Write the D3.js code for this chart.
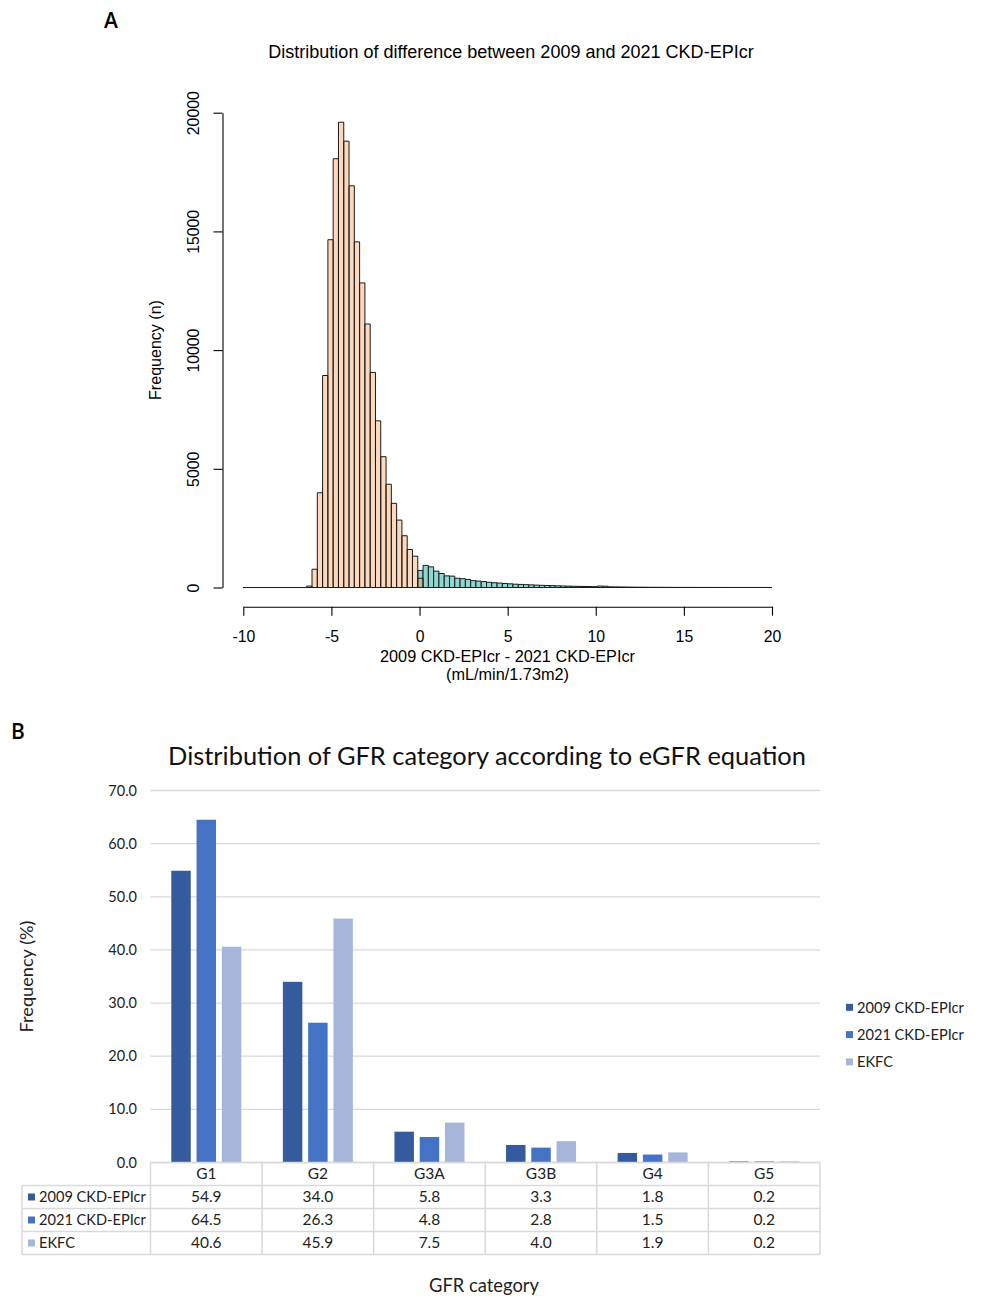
<!DOCTYPE html>
<html>
<head>
<meta charset="utf-8">
<script src="https://cdn.jsdelivr.net/npm/d3@7"></script>
<style>
  html, body { margin: 0; padding: 0; background: #fff; }
  svg { display: block; }
</style>
</head>
<body>
<svg id="chart" width="981" height="1296"></svg>
<script>
// ---------------- DATA: panel A (histogram, 100 bins from -10 to 20) ----------------
const histDomain = [-10, 20];
const histBinCount = 100;
// counts of negative differences (orange), bin index 12 .. 33
const negStartBin = 12;
const negCounts = [60, 770, 3990, 8930, 14650, 18060, 19600, 18800, 16920, 14560, 12830,
  11100, 9060, 7020, 5510, 4350, 3545, 2840, 2180, 1600, 1320, 390];
// counts of positive differences (teal), bin index 33 .. 99
const posStartBin = 33;
const posCounts = [720, 930, 870, 690, 590, 490, 480, 390, 370, 340, 290, 270, 250, 220, 200,
  185, 170, 155, 140, 130, 120, 110, 100, 92, 85, 78, 70, 65, 58, 52, 48, 44, 40, 36, 60, 55,
  28, 25, 22, 19, 16, 14, 12, 10, 9, 8, 7, 6, 5, 5, 4, 4, 3, 3, 3, 2, 2, 2, 2, 1, 1, 1, 1, 1, 1, 1, 1];
const histXTicks = [-10, -5, 0, 5, 10, 15, 20];
const histYTicks = [0, 5000, 10000, 15000, 20000];

// ---------------- DATA: panel B (grouped bars + data table) ----------------
const categories = ["G1", "G2", "G3A", "G3B", "G4", "G5"];
const seriesNames = ["2009 CKD-EPIcr", "2021 CKD-EPIcr", "EKFC"];
const values2009 = [54.9, 34.0, 5.8, 3.3, 1.8, 0.2];
const values2021 = [64.5, 26.3, 4.8, 2.8, 1.5, 0.2];
const valuesEKFC = [40.6, 45.9, 7.5, 4.0, 1.9, 0.2];
const barYTicks = [0, 10, 20, 30, 40, 50, 60, 70];

// ---------------- styles ----------------
const colA = { neg: "#F7964A", negOpacity: 0.36, pos: "#8ED8D1" };
const seriesColors = ["#355A9E", "#4472C4", "#A6B5DA"];
const fontA = "'Liberation Sans', Arial, sans-serif";
const fontB = "Lato, 'Open Sans', sans-serif";
const fontPanel = "'Open Sans', 'Liberation Sans', sans-serif";

const svg = d3.select("#chart");

function fitText(sel, width) {
  const node = sel.node();
  const fs = parseFloat(sel.attr("font-size"));
  const w = node.getComputedTextLength();
  if (w > 0) sel.attr("font-size", fs * width / w);
}

// =============== PANEL A ===============
const gA = svg.append("g");
gA.append("text").attr("x", 104).attr("y", 27.7).attr("font-family", fontPanel)
  .attr("font-size", 21).attr("font-weight", 600).text("A");
const titleA = gA.append("text").attr("x", 511).attr("y", 58.2).attr("text-anchor", "middle")
  .attr("font-family", fontA).attr("font-size", 18)
  .text("Distribution of difference between 2009 and 2021 CKD-EPIcr");
fitText(titleA, 486);

const xA = d3.scaleLinear().domain(histDomain).range([243.3, 772]);
const yA = d3.scaleLinear().domain([0, 20000]).range([587.5, 112.7]);
const binW = (histDomain[1] - histDomain[0]) / histBinCount;
const breaks = d3.range(histBinCount + 1).map(i => histDomain[0] + i * binW);

function fullCounts(start, arr) {
  return d3.range(histBinCount).map(i => {
    const j = i - start;
    return (j >= 0 && j < arr.length) ? arr[j] : 0;
  });
}
const posFull = fullCounts(posStartBin, posCounts);
const negFull = fullCounts(negStartBin, negCounts);

function drawHist(counts, fill, opacity) {
  gA.append("g").selectAll("path").data(counts).join("path")
    .attr("d", (d, i) => {
      const x0 = xA(breaks[i]), x1 = xA(breaks[i + 1]);
      const y0 = yA(0), y1 = yA(d);
      return `M${x0},${y0}V${y1}H${x1}V${y0}Z`;
    })
    .attr("fill", fill).attr("fill-opacity", opacity)
    .attr("stroke", "#1a1a1a").attr("stroke-width", 1);
}
drawHist(posFull, colA.pos, 1);
drawHist(negFull, colA.neg, colA.negOpacity);

// y axis
const yAxisA = gA.append("g").attr("transform", "translate(222.5,0)")
  .call(d3.axisLeft(yA).tickValues(histYTicks).tickSize(9).tickSizeOuter(0).tickFormat(d => String(d)));
yAxisA.selectAll(".tick text")
  .attr("x", null).attr("dy", null).attr("y", null)
  .attr("text-anchor", "middle")
  .attr("transform", "translate(-23.5,0) rotate(-90)");
// x axis
const xAxisA = gA.append("g").attr("transform", "translate(0,606.7)")
  .call(d3.axisBottom(xA).tickValues(histXTicks).tickSize(9).tickSizeOuter(0).tickFormat(d => String(d)));
xAxisA.selectAll(".tick text").attr("dy", null).attr("y", 35);
[yAxisA, xAxisA].forEach(ax => {
  ax.attr("font-family", fontA).attr("font-size", 15.8);
  ax.selectAll("path, line").attr("stroke", "#000").attr("stroke-width", 1.1);
  ax.selectAll("text").attr("fill", "#000");
});
const ylabA = gA.append("text").attr("transform", "translate(160.5,350) rotate(-90)")
  .attr("text-anchor", "middle").attr("font-family", fontA).attr("font-size", 16)
  .text("Frequency (n)");
fitText(ylabA, 100);
const xlabA1 = gA.append("text").attr("x", 507.5).attr("y", 661.7).attr("text-anchor", "middle")
  .attr("font-family", fontA).attr("font-size", 16).text("2009 CKD-EPIcr - 2021 CKD-EPIcr");
fitText(xlabA1, 255);
gA.append("text").attr("x", 507.5).attr("y", 680).attr("text-anchor", "middle")
  .attr("font-family", fontA).attr("font-size", xlabA1.attr("font-size")).text("(mL/min/1.73m2)");

// =============== PANEL B ===============
const gB = svg.append("g").attr("font-family", fontB);
gB.append("text").attr("x", 11).attr("y", 739).attr("font-family", fontPanel)
  .attr("font-size", 21).attr("font-weight", 600).text("B");

const titleB = gB.append("text").attr("x", 487).attr("y", 765).attr("text-anchor", "middle")
  .attr("font-size", 24).attr("fill", "#111")
  .text("Distribution of GFR category according to eGFR equation");
fitText(titleB, 638);

const xB = d3.scaleBand().domain(categories).range([150.5, 820]);
const yB = d3.scaleLinear().domain([0, 70]).range([1162.5, 790.5]);
const groupW = 70;
const xSub = d3.scaleBand().domain(seriesNames).range([0, groupW]).paddingInner(0.23);
const seriesValues = [values2009, values2021, valuesEKFC];

// gridlines
gB.append("g").selectAll("line").data(barYTicks).join("line")
  .attr("x1", 150.5).attr("x2", 820)
  .attr("y1", d => yB(d)).attr("y2", d => yB(d))
  .attr("stroke", "#D9D9D9").attr("stroke-width", 1.3);
// y tick labels
gB.append("g").selectAll("text").data(barYTicks).join("text")
  .attr("x", 137).attr("y", d => yB(d)).attr("dy", "0.35em")
  .attr("text-anchor", "end").attr("font-size", 14.5).attr("fill", "#222")
  .text(d => d.toFixed(1));

// bars
seriesNames.forEach((name, si) => {
  gB.append("g").selectAll("rect").data(seriesValues[si]).join("rect")
    .attr("x", (d, i) => xB(categories[i]) + xB.bandwidth() / 2 - groupW / 2 + xSub(name))
    .attr("width", xSub.bandwidth())
    .attr("y", d => yB(d))
    .attr("height", d => yB(0) - yB(d))
    .attr("fill", seriesColors[si]);
});

// data table
const rowTops = [1162.5, 1185.5, 1208.5, 1231.5, 1254.5];
const tbl = gB.append("g").attr("stroke", "#D9D9D9").attr("stroke-width", 1.5);
tbl.append("line").attr("x1", 150.5).attr("x2", 820).attr("y1", rowTops[0]).attr("y2", rowTops[0]);
rowTops.slice(1).forEach(y => tbl.append("line").attr("x1", 22).attr("x2", 820).attr("y1", y).attr("y2", y));
const colEdges = categories.map(c => xB(c)).concat([xB(categories[categories.length - 1]) + xB.bandwidth()]);
colEdges.forEach(x => tbl.append("line").attr("x1", x).attr("x2", x).attr("y1", rowTops[0]).attr("y2", rowTops[4]));
tbl.append("line").attr("x1", 22).attr("x2", 22).attr("y1", rowTops[1]).attr("y2", rowTops[4]);

gB.append("g").selectAll("text").data(categories).join("text")
  .attr("x", d => xB(d) + xB.bandwidth() / 2).attr("y", rowTops[0] + 16.5)
  .attr("text-anchor", "middle").attr("font-size", 15.5).attr("fill", "#222").text(d => d);

seriesNames.forEach((name, si) => {
  const yTop = rowTops[si + 1];
  gB.append("rect").attr("x", 28).attr("y", yTop + 8).attr("width", 7).attr("height", 7)
    .attr("fill", seriesColors[si]);
  gB.append("text").attr("x", 39).attr("y", yTop + 16.7).attr("font-size", 14.6)
    .attr("fill", "#222").text(name);
  gB.append("g").selectAll("text").data(seriesValues[si]).join("text")
    .attr("x", (d, i) => xB(categories[i]) + xB.bandwidth() / 2).attr("y", yTop + 16.7)
    .attr("text-anchor", "middle").attr("font-size", 15.5).attr("fill", "#222")
    .text(d => d.toFixed(1));
});

// right legend
seriesNames.forEach((name, si) => {
  const cy = 1007.3 + si * 27.3;
  gB.append("rect").attr("x", 846).attr("y", cy - 3.5).attr("width", 7).attr("height", 7)
    .attr("fill", seriesColors[si]);
  gB.append("text").attr("x", 857).attr("y", cy + 5.3).attr("font-size", 14.6)
    .attr("fill", "#222").text(name);
});

// axis titles
const ylabB = gB.append("text").attr("transform", "translate(33,976.5) rotate(-90)")
  .attr("text-anchor", "middle").attr("font-size", 15).attr("fill", "#222").text("Frequency (%)");
fitText(ylabB, 112);
const xlabB = gB.append("text").attr("x", 484).attr("y", 1292).attr("text-anchor", "middle")
  .attr("font-size", 15).attr("fill", "#222").text("GFR category");
fitText(xlabB, 110);
</script>
</body>
</html>
